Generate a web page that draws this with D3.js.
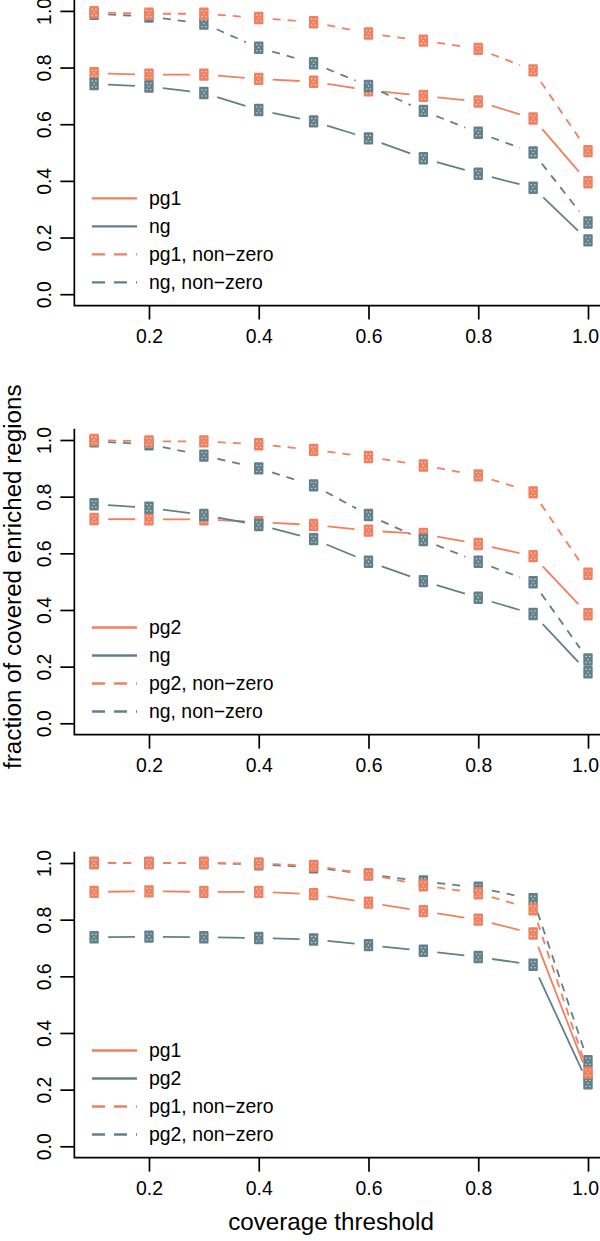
<!DOCTYPE html>
<html>
<head>
<meta charset="utf-8">
<script src="https://cdn.jsdelivr.net/npm/d3@7"></script>
<style>
  html, body { margin: 0; padding: 0; background: #fff; }
  svg { display: block; font-family: "Liberation Sans", Arial, Helvetica, sans-serif; }
</style>
</head>
<body>
<svg id="chart" width="600" height="1241"></svg>
<script>
// ---- data ----
const thresholds = [0.1, 0.2, 0.3, 0.4, 0.5, 0.6, 0.7, 0.8, 0.9, 1.0];
const xTicks = [0.2, 0.4, 0.6, 0.8, 1.0];
const yTicks = [0.0, 0.2, 0.4, 0.6, 0.8, 1.0];

// panel 1: pg1 vs ng
const p1Labels = ["pg1", "ng", "pg1, non\u2212zero", "ng, non\u2212zero"];
const p1Solid1 = [0.78, 0.775, 0.775, 0.76, 0.75, 0.72, 0.70, 0.68, 0.62, 0.395];
const p1Solid2 = [0.742, 0.733, 0.71, 0.65, 0.61, 0.55, 0.48, 0.425, 0.376, 0.19];
const p1Nz1    = [0.995, 0.99, 0.99, 0.975, 0.96, 0.92, 0.895, 0.866, 0.79, 0.505];
const p1Nz2    = [0.99, 0.98, 0.955, 0.87, 0.815, 0.735, 0.647, 0.57, 0.50, 0.253];

// panel 2: pg2 vs ng
const p2Labels = ["pg2", "ng", "pg2, non\u2212zero", "ng, non\u2212zero"];
const p2Solid1 = [0.721, 0.72, 0.72, 0.71, 0.70, 0.68, 0.668, 0.633, 0.59, 0.385];
const p2Solid2 = [0.773, 0.761, 0.735, 0.70, 0.65, 0.57, 0.502, 0.443, 0.386, 0.18];
const p2Nz1    = [1.0, 0.995, 0.995, 0.985, 0.965, 0.94, 0.91, 0.875, 0.815, 0.528];
const p2Nz2    = [0.995, 0.985, 0.945, 0.90, 0.84, 0.735, 0.647, 0.57, 0.498, 0.225];

// panel 3: pg1 vs pg2
const p3Labels = ["pg1", "pg2", "pg1, non\u2212zero", "pg2, non\u2212zero"];
const p3Solid1 = [0.898, 0.90, 0.898, 0.898, 0.89, 0.86, 0.83, 0.80, 0.751, 0.25];
const p3Solid2 = [0.738, 0.74, 0.738, 0.735, 0.73, 0.71, 0.69, 0.668, 0.641, 0.222];
const p3Nz1    = [1.0, 1.0, 1.0, 0.998, 0.99, 0.96, 0.921, 0.893, 0.837, 0.26];
const p3Nz2    = [1.0, 1.0, 1.0, 0.995, 0.985, 0.96, 0.935, 0.913, 0.872, 0.30];

const yTitle = "fraction of covered enriched regions";
const xTitle = "coverage threshold";

// ---- styles ----
const ORANGE = "#F0805F";
const GRAY = "#62808A";
const FONT_TICK = 19.4;
const FONT_TITLE = 24.2;

const panels = [
  { top: 10.9, labels: p1Labels, s1: p1Solid1, s2: p1Solid2, n1: p1Nz1, n2: p1Nz2 },
  { top: 440,  labels: p2Labels, s1: p2Solid1, s2: p2Solid2, n1: p2Nz1, n2: p2Nz2 },
  { top: 863,  labels: p3Labels, s1: p3Solid1, s2: p3Solid2, n1: p3Nz1, n2: p3Nz2 }
];

const svg = d3.select("#chart");
const x = d3.scaleLinear().domain([0.1, 1.0]).range([94.1, 588]);
const PLOT_H = 283.3;
const xLeft = x(0.064), xRight = x(1.036);

panels.forEach((p, pi) => {
  const y = d3.scaleLinear().domain([0, 1]).range([p.top + PLOT_H, p.top]);
  const g = svg.append("g");
  const yBottom = y(-0.04), yTop = y(1.04);

  // L-shaped box
  g.append("path")
    .attr("d", `M${xLeft},${yTop}V${yBottom}H${xRight}`)
    .attr("fill", "none").attr("stroke", "#000").attr("stroke-width", 1.7);

  // x axis
  const xa = g.append("g").attr("transform", `translate(0,${yBottom})`)
    .call(d3.axisBottom(x).tickValues(xTicks).tickSize(14).tickPadding(10).tickFormat(d3.format(".1f")));
  xa.select(".domain").remove();
  xa.selectAll("line").attr("stroke", "#000").attr("stroke-width", 1.7);
  xa.selectAll("text").attr("font-size", FONT_TICK).attr("fill", "#000")
    .attr("font-family", "Liberation Sans, Arial, sans-serif")
    .attr("x", d => d === 1.0 ? -3 : 0);

  // y axis
  const ya = g.append("g").attr("transform", `translate(${xLeft},0)`)
    .call(d3.axisLeft(y).tickValues(yTicks).tickSize(14).tickFormat(d3.format(".1f")));
  ya.select(".domain").remove();
  ya.selectAll("line").attr("stroke", "#000").attr("stroke-width", 1.7);
  ya.selectAll("text")
    .attr("x", null).attr("dy", "0.36em")
    .attr("text-anchor", "middle")
    .attr("transform", "translate(-30,0) rotate(-90)")
    .attr("font-size", FONT_TICK).attr("fill", "#000")
    .attr("font-family", "Liberation Sans, Arial, sans-serif");

  // series in drawing order
  const series = [
    { vals: p.s1, color: ORANGE, dash: null },
    { vals: p.s2, color: GRAY, dash: null },
    { vals: p.n2, color: GRAY, dash: "8,7" },
    { vals: p.n1, color: ORANGE, dash: "8,7" }
  ];
  const GAP = 14;
  series.forEach(s => {
    const pts = thresholds.map((t, i) => [x(t), y(s.vals[i])]);
    const sg = g.append("g");
    for (let i = 0; i < pts.length - 1; i++) {
      const [x0, y0] = pts[i], [x1, y1] = pts[i + 1];
      const len = Math.hypot(x1 - x0, y1 - y0);
      if (len <= 2 * GAP) continue;
      const ux = (x1 - x0) / len, uy = (y1 - y0) / len;
      sg.append("line")
        .attr("x1", x0 + ux * GAP).attr("y1", y0 + uy * GAP)
        .attr("x2", x1 - ux * GAP).attr("y2", y1 - uy * GAP)
        .attr("stroke", s.color).attr("stroke-width", 1.8)
        .attr("stroke-dasharray", s.dash);
    }
    pts.forEach(([px, py]) => {
      const mg = sg.append("g").attr("transform", `translate(${px},${py})`);
      mg.append("rect").attr("x", -4.7).attr("y", -6.2).attr("width", 9.4).attr("height", 12.4)
        .attr("rx", 1).attr("fill", s.color);
      [[-1.8, -3], [1.8, -3], [0, 0], [-1.8, 3], [1.8, 3]].forEach(([dx, dy]) => {
        mg.append("circle").attr("cx", dx).attr("cy", dy).attr("r", 0.7)
          .attr("fill", "#fff").attr("opacity", 0.8);
      });
    });
  });

  // legend
  const legendItems = [
    { label: p.labels[0], color: ORANGE, dash: null },
    { label: p.labels[1], color: GRAY, dash: null },
    { label: p.labels[2], color: ORANGE, dash: "13,9" },
    { label: p.labels[3], color: GRAY, dash: "13,9" }
  ];
  legendItems.forEach((it, i) => {
    const ly = p.top + 187.5 + i * 28;
    g.append("line").attr("x1", 92).attr("x2", 137).attr("y1", ly).attr("y2", ly)
      .attr("stroke", it.color).attr("stroke-width", 2.3)
      .attr("stroke-dasharray", it.dash);
    g.append("text").attr("x", 149).attr("y", ly).attr("dy", "0.36em")
      .attr("font-size", FONT_TICK).attr("fill", "#000").text(it.label);
  });
});

// axis titles
svg.append("text")
  .attr("transform", `translate(21,${440 + PLOT_H / 2 - 5}) rotate(-90)`)
  .attr("text-anchor", "middle")
  .attr("font-size", FONT_TITLE).attr("fill", "#000")
  .text(yTitle);

svg.append("text")
  .attr("x", 331).attr("y", 1230)
  .attr("text-anchor", "middle")
  .attr("font-size", FONT_TITLE).attr("fill", "#000")
  .text(xTitle);
</script>
</body>
</html>
